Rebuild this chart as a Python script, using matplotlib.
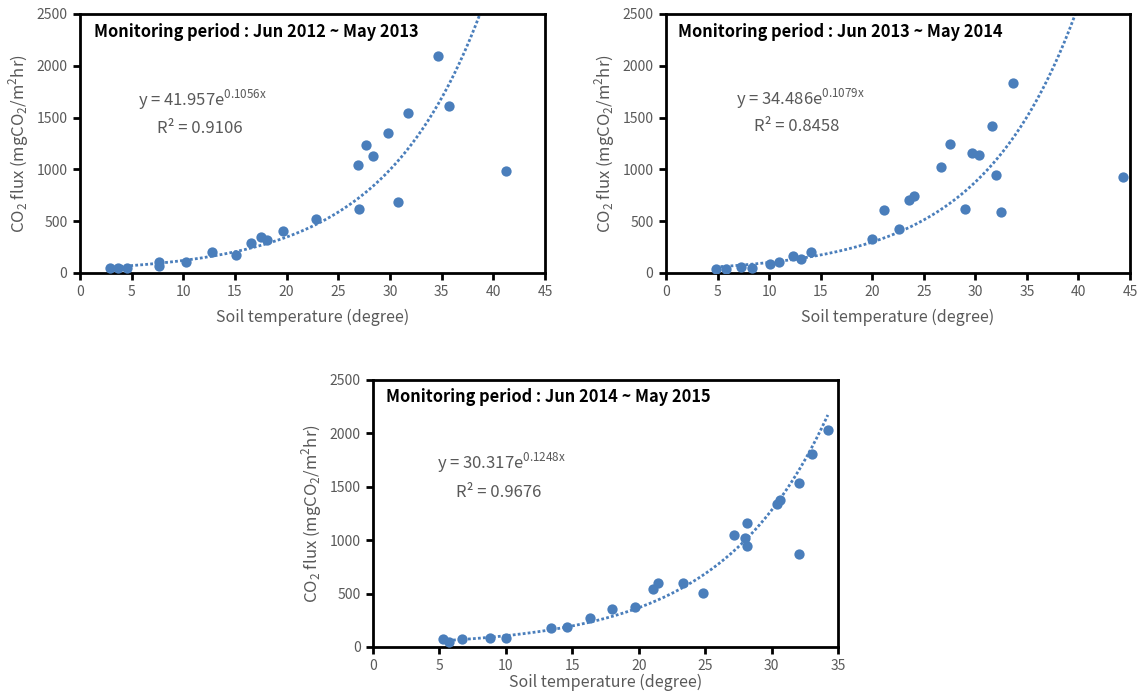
import numpy as np
import matplotlib.pyplot as plt

plt.rcParams['font.family'] = ['Noto Sans CJK KR', 'DejaVu Sans']

# данные: температура почвы и поток CO2 для трёх периодов
temp_2012 = [2.94, 3.67, 4.54, 7.61, 7.61, 10.28, 12.75, 15.06, 16.53, 17.53, 18.06, 19.63,
             22.87, 26.88, 27.01, 27.71, 28.38, 29.82, 30.78, 31.72, 34.62, 35.73, 41.2]
flux_2012 = [45, 45, 45, 110, 70, 103, 203, 171, 287, 351, 319, 406,
             525, 1044, 619, 1231, 1128, 1353, 683, 1547, 2094, 1614, 980]

temp_2013 = [4.81, 5.84, 7.25, 8.38, 10.1, 10.96, 12.33, 13.09, 14.05, 19.96, 21.13, 22.64,
             23.57, 24.05, 26.69, 27.59, 28.96, 29.65, 30.4, 31.6, 31.98, 32.5, 33.63, 44.28]
flux_2013 = [39, 39, 55, 45, 87, 103, 168, 135, 203, 329, 612, 429,
             709, 741, 1025, 1247, 622, 1157, 1140, 1415, 941, 586, 1834, 922]

temp_2014 = [5.27, 5.71, 6.68, 8.78, 10.0, 13.38, 14.62, 16.34, 17.97, 19.69, 21.04, 21.45,
             23.35, 24.86, 27.17, 27.97, 28.13, 28.18, 30.44, 30.65, 32.03, 32.05, 33.06, 34.23]
flux_2014 = [71, 51, 71, 80, 87, 176, 183, 273, 353, 372, 546, 600,
             600, 504, 1053, 1021, 944, 1159, 1335, 1377, 1531, 866, 1804, 2035]

# коэффициенты экспоненциального тренда y = a*e^(b*x)
coef_a = [41.957, 34.486, 30.317]
coef_b = [0.1056, 0.1079, 0.1248]
r2 = ['0.9106', '0.8458', '0.9676']
periods = ['Jun 2012 ~ May 2013', 'Jun 2013 ~ May 2014', 'Jun 2014 ~ May 2015']

blue = '#4a7ebb'
gray = '#595959'

fig = plt.figure(figsize=(11.39, 6.93), dpi=100)
ax1 = fig.add_axes([0.0702, 0.6061, 0.4083, 0.3737])
ax2 = fig.add_axes([0.5847, 0.6061, 0.4074, 0.3737])
ax3 = fig.add_axes([0.3275, 0.0664, 0.4083, 0.3853])

axes = [ax1, ax2, ax3]
temps = [temp_2012, temp_2013, temp_2014]
fluxes = [flux_2012, flux_2013, flux_2014]
xmax = [45, 45, 35]
# положение подписей (в долях осей)
title_x = [0.030, 0.026, 0.028]
title_y = [0.930, 0.930, 0.936]
eq_pos = [(0.125, 0.668), (0.151, 0.672), (0.138, 0.689)]
r2_pos = [(0.166, 0.556), (0.190, 0.564), (0.178, 0.580)]
xlabel_pad = [7, 7, 0]

for i in range(3):
    ax = axes[i]
    x = np.array(temps[i])
    y = np.array(fluxes[i])
    ax.scatter(x, y, s=55, color=blue, zorder=3, linewidths=0)

    # линия тренда
    xt = np.linspace(x.min(), x.max(), 300)
    yt = coef_a[i] * np.exp(coef_b[i] * xt)
    ax.plot(xt, yt, color=blue, lw=2, linestyle=(0, (1, 0.8)), zorder=2)

    ax.set_xlim(0, xmax[i])
    ax.set_ylim(0, 2500)
    ax.set_xticks(np.arange(0, xmax[i] + 1, 5))
    ax.set_yticks(np.arange(0, 2501, 500))
    for s in ax.spines.values():
        s.set_linewidth(2)
        s.set_color('black')
    ax.tick_params(direction='out', length=5, width=2, colors='black',
                   labelcolor=gray, labelsize=10, pad=4)

    ax.set_xlabel('Soil temperature (degree)', color=gray, fontsize=11.5, labelpad=xlabel_pad[i])
    ax.set_ylabel(r'CO$_\mathregular{2}$ flux (mgCO$_\mathregular{2}$/m$^\mathregular{2}$hr)',
                  color=gray, fontsize=12, labelpad=4)

    ax.text(title_x[i], title_y[i], 'Monitoring period : ' + periods[i],
            transform=ax.transAxes, fontsize=11.8, fontweight='bold',
            ha='left', va='center', color='black')
    ax.text(eq_pos[i][0], eq_pos[i][1],
            'y = ' + str(coef_a[i]) + 'e$^{\\mathregular{' + str(coef_b[i]) + 'x}}$',
            transform=ax.transAxes, fontsize=12, color=gray, ha='left', va='center')
    ax.text(r2_pos[i][0], r2_pos[i][1], 'R² = ' + r2[i],
            transform=ax.transAxes, fontsize=12, color=gray, ha='left', va='center')

plt.savefig('out.png', dpi=100)
